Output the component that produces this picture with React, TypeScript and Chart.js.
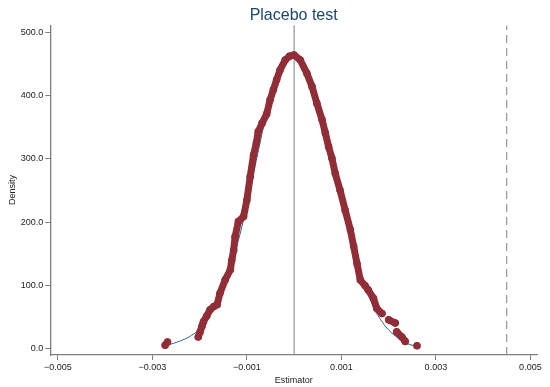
import React, { useEffect, useRef } from "react";
import { Chart, registerables } from "chart.js";

Chart.register(...registerables);

// Red points: estimator values and their density (null = gap between clusters)
const redX: number[] = [
  -0.00273, -0.00268, -0.00240,
  -0.00203, -0.00199, -0.00195, -0.00192, -0.00185, -0.00178, -0.00170, -0.00163, -0.00157,
  -0.00146, -0.00135, -0.00132, -0.00128, -0.00125, -0.00118, -0.00107, -0.00100, -0.00093,
  -0.00086, -0.00080, -0.00076, -0.00068, -0.00058, -0.00051, -0.00044, -0.00037, -0.00030,
  -0.00019, -0.00010, 0.0, 0.00013, 0.00027, 0.00038, 0.00048, 0.00059, 0.00066, 0.00073,
  0.00080, 0.00087, 0.00097, 0.00108, 0.00119, 0.00126, 0.00133, 0.00140, 0.00150, 0.00157,
  0.00168, 0.00175, 0.00186, 0.00193,
  0.00200, 0.00214, 0.00216,
  0.00217, 0.00228, 0.00235, 0.00250,
  0.00260,
];
const redY: (number | null)[] = [
  6, 11, null,
  19, 27, 36, 43, 52, 62, 67, 70, 88,
  109, 125, 140, 156, 177, 201, 209, 235, 272,
  306, 325, 343, 356, 371, 393, 409, 425, 440,
  456, 462, 464, 456, 435, 414, 388, 362, 341, 319,
  301, 277, 251, 219, 188, 162, 135, 109, 100, 93,
  80, 64, 56, null,
  46, 41, null,
  27, 19, 12, null,
  5,
];

// Blue kernel density line
const blueX: number[] = [
  -0.00273, -0.00255, -0.00240, -0.00225, -0.00210, -0.00200, -0.00190, -0.00180, -0.00170,
  -0.00160, -0.00150, -0.00140, -0.00130, -0.00120, -0.00110, -0.00100, -0.00090, -0.00080,
  -0.00070, -0.00060, -0.00050, -0.00040, -0.00030, -0.00020, -0.00010, 0.0, 0.00010,
  0.00020, 0.00030, 0.00040, 0.00050, 0.00060, 0.00070, 0.00080, 0.00090, 0.00100, 0.00110,
  0.00120, 0.00130, 0.00140, 0.00150, 0.00160, 0.00170, 0.00180, 0.00190, 0.00200, 0.00210,
  0.00220, 0.00230, 0.00245, 0.00260,
];
const blueY: number[] = [
  5, 9, 13, 18, 25, 30, 40, 52, 65,
  80, 97, 117, 140, 166, 195, 228, 262, 298,
  333, 366, 396, 422, 442, 456, 463, 465, 461,
  450, 432, 409, 383, 355, 325, 295, 264, 233, 202,
  172, 145, 120, 98, 80, 62, 50, 39, 30, 23,
  17, 12, 7, 4,
];

const xTicks = [-0.005, -0.003, -0.001, 0.001, 0.003, 0.005];
const yTicks = [0, 100, 200, 300, 400, 500];
const xMin = -0.00516;
const xMax = 0.00514;
const yMin = -9.5;
const yMax = 511;
const zeroLine = 0;
const actualEstimate = 0.0045;

const RED = "rgb(144,45,55)";
const BLUE = "rgb(45,95,150)";
const GRAY = "#7f7f7f";
const FONT = "'Liberation Sans', Arial, sans-serif";

export default function App() {
  const ref = useRef<HTMLCanvasElement | null>(null);
  useEffect(() => {
    if (!ref.current) return;
    const red = redX.map((x, i) => ({ x, y: redY[i] }));
    const blue = blueX.map((x, i) => ({ x, y: blueY[i] }));
    const chart = new Chart(ref.current, {
      type: "scatter",
      data: {
        datasets: [
          {
            data: red as any,
            showLine: true,
            spanGaps: false,
            borderColor: RED,
            backgroundColor: RED,
            borderWidth: 7,
            borderCapStyle: "round",
            borderJoinStyle: "round",
            pointRadius: 3.8,
            pointBorderWidth: 0,
            pointBackgroundColor: RED,
          },
          {
            data: blue,
            showLine: true,
            borderColor: BLUE,
            borderWidth: 1,
            pointRadius: 0,
            tension: 0.4,
          },
          {
            data: [
              { x: zeroLine, y: yMin },
              { x: zeroLine, y: yMax },
            ],
            showLine: true,
            borderColor: GRAY,
            borderWidth: 1,
            pointRadius: 0,
          },
          {
            data: [
              { x: actualEstimate, y: yMin },
              { x: actualEstimate, y: yMax },
            ],
            showLine: true,
            borderColor: GRAY,
            borderWidth: 1,
            borderDash: [8, 5],
            pointRadius: 0,
          },
        ],
      },
      options: {
        animation: false,
        responsive: false,
        layout: { padding: { left: 4, right: 13, top: 0, bottom: 2 } },
        plugins: {
          legend: { display: false },
          tooltip: { enabled: false },
          title: {
            display: true,
            text: "Placebo test",
            color: "#1a476f",
            fullSize: false,
            font: { family: FONT, size: 16, weight: "normal" },
            padding: { top: 6, bottom: 0 },
          },
        },
        scales: {
          x: {
            type: "linear",
            min: xMin,
            max: xMax,
            afterBuildTicks: (axis: any) => {
              axis.ticks = xTicks.map((v) => ({ value: v }));
            },
            ticks: {
              autoSkip: false,
              maxRotation: 0,
              color: "#222",
              padding: 3.5,
              font: { family: FONT, size: 9, lineHeight: 1 },
              callback: (v: any) => (v < 0 ? "\u2212" : "") + Math.abs(v).toFixed(3),
            },
            grid: {
              display: true,
              drawOnChartArea: false,
              drawTicks: true,
              tickLength: 5,
              color: GRAY,
            },
            border: { display: true, color: GRAY, width: 1.3 },
            title: {
              display: true,
              text: "Estimator",
              color: "#222",
              font: { family: FONT, size: 9, lineHeight: 1 },
              padding: { top: 0, bottom: 0 },
            },
          },
          y: {
            type: "linear",
            min: yMin,
            max: yMax,
            afterBuildTicks: (axis: any) => {
              axis.ticks = yTicks.map((v) => ({ value: v }));
            },
            ticks: {
              autoSkip: false,
              color: "#222",
              padding: 2,
              font: { family: FONT, size: 9 },
              callback: (v: any) => Number(v).toFixed(1),
            },
            grid: {
              display: true,
              drawOnChartArea: false,
              drawTicks: true,
              tickLength: 5,
              color: GRAY,
            },
            border: { display: true, color: GRAY, width: 1.3 },
            title: {
              display: true,
              text: "Density",
              color: "#222",
              font: { family: FONT, size: 9 },
              padding: { top: 3, bottom: 1 },
            },
          },
        },
      },
    });
    return () => chart.destroy();
  }, []);
  return (
    <div style={{ position: "absolute", left: 0, top: 0, width: 550, height: 387 }}>
      <canvas ref={ref} width={550} height={387} style={{ display: "block" }} />
    </div>
  );
}
